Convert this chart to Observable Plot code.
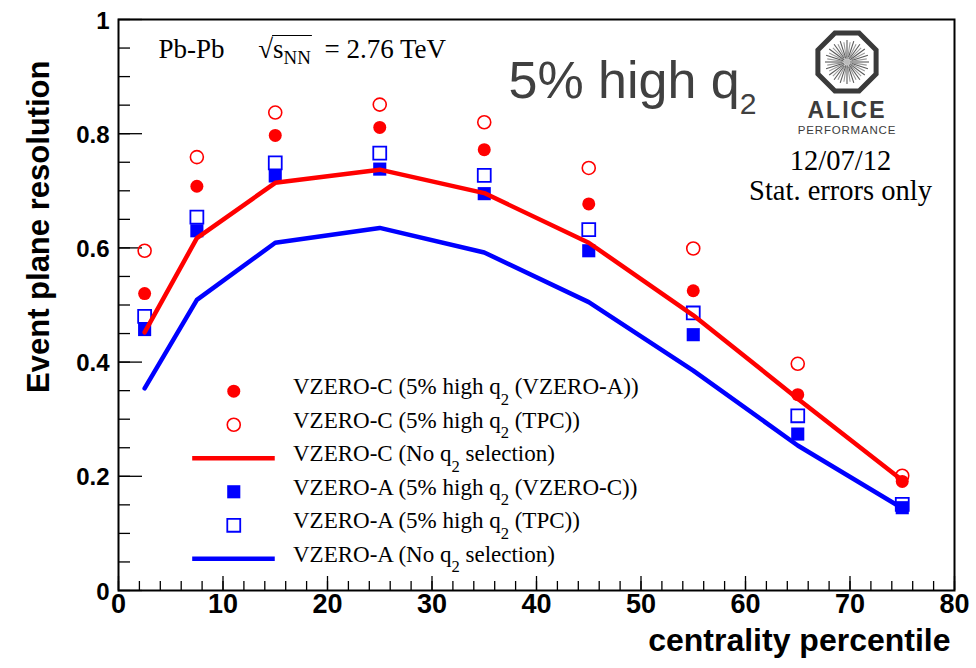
<!DOCTYPE html>
<html><head><meta charset="utf-8">
<script src="https://cdn.jsdelivr.net/npm/d3@7"></script>
<script src="https://cdn.jsdelivr.net/npm/@observablehq/plot@0.6"></script>
<style>
html,body{margin:0;padding:0;background:#fff;}
#chart{width:976px;height:668px;}
</style></head><body><div id="chart"></div>
<script>
// ---------------- data ----------------
const centrality = [2.5, 7.5, 15, 25, 35, 45, 55, 65, 75];
const vzeroC_q2VZEROA = [0.520, 0.708, 0.797, 0.811, 0.772, 0.677, 0.525, 0.343, 0.191];
const vzeroC_q2TPC    = [0.595, 0.759, 0.837, 0.851, 0.820, 0.740, 0.599, 0.397, 0.201];
const vzeroC_noSel    = [0.452, 0.617, 0.714, 0.737, 0.696, 0.609, 0.482, 0.336, 0.193];
const vzeroA_q2VZEROC = [0.457, 0.630, 0.726, 0.738, 0.695, 0.595, 0.448, 0.274, 0.145];
const vzeroA_q2TPC    = [0.480, 0.654, 0.749, 0.766, 0.727, 0.632, 0.486, 0.306, 0.151];
const vzeroA_noSel    = [0.354, 0.509, 0.609, 0.635, 0.592, 0.505, 0.385, 0.254, 0.144];
const seriesLabels = [
  "VZERO-C (5% high q_{2} (VZERO-A))",
  "VZERO-C (5% high q_{2} (TPC))",
  "VZERO-C (No q_{2} selection)",
  "VZERO-A (5% high q_{2} (VZERO-C))",
  "VZERO-A (5% high q_{2} (TPC))",
  "VZERO-A (No q_{2} selection)"
];
const xMajorTicks = [0, 10, 20, 30, 40, 50, 60, 70, 80];
const xTickLabels = ["0", "10", "20", "30", "40", "50", "60", "70", "80"];
const xMinorTicks = d3.range(0, 81, 2);
const yMajorTicks = [0, 0.2, 0.4, 0.6, 0.8, 1];
const yTickLabels = ["0", "0.2", "0.4", "0.6", "0.8", "1"];
const yMinorTicks = d3.range(0, 21).map(i => i / 20);
const xTitle = "centrality percentile";
const yTitle = "Event plane resolution";
const headerText = "Pb-Pb     \u221As_{NN}  = 2.76 TeV";
const bigTitle = "5% high q_{2}";
const dateText = "12/07/12";
const statText = "Stat. errors only";

// ---------------- layout ----------------
const W = 976, H = 668, mL = 118, mR = 22, mT = 19, mB = 78;
const innerW = W - mL - mR, innerH = H - mT - mB;
const RED = "#ff0000", BLUE = "#0000ff";
const SERIF = "Liberation Serif, Times New Roman, serif";
const SANS = "Liberation Sans, Arial, Helvetica, sans-serif";

const legTop = 0.349, legStep = 0.0587;
const legRows = seriesLabels.map((label, i) => ({label, i, y: legTop - i * legStep}));
const legSymX = 11.03, legLineX1 = 7.1, legLineX2 = 15.0, legTextX = 16.7;

const ptY = arr => (d, i) => arr[i];

const plot = Plot.plot({
  width: W, height: H,
  marginLeft: mL, marginRight: mR, marginTop: mT, marginBottom: mB,
  style: {fontFamily: SANS, background: "white", overflow: "visible"},
  x: {domain: [0, 80], axis: null},
  y: {domain: [0, 1], axis: null},
  marks: [
    // ticks (inside frame)
    Plot.tickY(yMinorTicks, {y: d => d, insetRight: innerW - 12, stroke: "black", strokeWidth: 1.3}),
    Plot.tickY(yMajorTicks, {y: d => d, insetRight: innerW - 24, stroke: "black", strokeWidth: 1.3}),
    Plot.tickX(xMinorTicks, {x: d => d, insetTop: innerH - 9, stroke: "black", strokeWidth: 1.3}),
    Plot.tickX(xMajorTicks, {x: d => d, insetTop: innerH - 14, stroke: "black", strokeWidth: 1.3}),
    // tick labels
    Plot.text(yMajorTicks, {y: d => d, text: (d, i) => yTickLabels[i], frameAnchor: "left", textAnchor: "end", lineAnchor: "bottom", dx: -9, dy: 9, fontSize: 24, fontWeight: "bold", fill: "black"}),
    Plot.text(xMajorTicks, {x: d => d, text: (d, i) => xTickLabels[i], frameAnchor: "bottom", textAnchor: "middle", lineAnchor: "bottom", dy: 22, fontSize: 27, fontWeight: "bold", fill: "black"}),
    // axis titles
    Plot.text([xTitle], {text: d => d, frameAnchor: "bottom-right", textAnchor: "end", lineAnchor: "bottom", dx: -4, dy: 60, fontSize: 32, fontWeight: "bold", fill: "black"}),
    Plot.text([yTitle], {text: d => d, frameAnchor: "top-left", textAnchor: "end", lineAnchor: "bottom", rotate: -90, dx: -70, dy: 41, fontSize: 31, fontWeight: "bold", fill: "black"}),
    // data: open markers first
    Plot.dot(centrality, {x: d => d, y: ptY(vzeroC_q2TPC), r: 6.5, fill: "none", stroke: RED, strokeWidth: 1.6}),
    Plot.dot(centrality, {x: d => d, y: ptY(vzeroA_q2TPC), symbol: "square", r: 7.3, fill: "white", stroke: BLUE, strokeWidth: 1.8}),
    Plot.dot(centrality, {x: d => d, y: ptY(vzeroC_q2VZEROA), r: 6.5, fill: RED, stroke: "none"}),
    Plot.dot(centrality, {x: d => d, y: ptY(vzeroA_q2VZEROC), symbol: "square", r: 7.4, fill: BLUE, stroke: "none"}),
    Plot.line(centrality, {x: d => d, y: ptY(vzeroC_noSel), stroke: RED, strokeWidth: 4.5}),
    Plot.line(centrality, {x: d => d, y: ptY(vzeroA_noSel), stroke: BLUE, strokeWidth: 4.5}),
    // legend
    Plot.dot([legRows[0]], {x: () => legSymX, y: "y", r: 6.5, fill: RED, stroke: "none"}),
    Plot.dot([legRows[1]], {x: () => legSymX, y: "y", r: 6.5, fill: "none", stroke: RED, strokeWidth: 1.6}),
    Plot.ruleY([legRows[2]], {y: "y", x1: () => legLineX1, x2: () => legLineX2, stroke: RED, strokeWidth: 4.5}),
    Plot.dot([legRows[3]], {x: () => legSymX, y: "y", symbol: "square", r: 7.4, fill: BLUE, stroke: "none"}),
    Plot.dot([legRows[4]], {x: () => legSymX, y: "y", symbol: "square", r: 7.3, fill: "white", stroke: BLUE, strokeWidth: 1.8}),
    Plot.ruleY([legRows[5]], {y: "y", x1: () => legLineX1, x2: () => legLineX2, stroke: BLUE, strokeWidth: 4.5}),
    Plot.text(legRows, {x: () => legTextX, y: "y", text: "label", textAnchor: "start", lineAnchor: "bottom", dy: 3, fontSize: 23, fontFamily: SERIF, fill: "black"}),
    // annotations
    Plot.text([headerText], {text: d => d, frameAnchor: "top-left", textAnchor: "start", lineAnchor: "bottom", dx: 40, dy: 38, fontSize: 27, fontFamily: SERIF, fill: "black"}),
    Plot.text([bigTitle], {text: d => d, frameAnchor: "top-left", textAnchor: "start", lineAnchor: "bottom", dx: 390, dy: 78, fontSize: 52, fontFamily: SANS, fill: "#404040"}),
    Plot.text([dateText], {text: d => d, frameAnchor: "top-left", textAnchor: "middle", lineAnchor: "bottom", dx: 722, dy: 150, fontSize: 28.5, fontFamily: SERIF, fill: "black"}),
    Plot.text([statText], {text: d => d, frameAnchor: "top-left", textAnchor: "middle", lineAnchor: "bottom", dx: 722, dy: 180, fontSize: 28.5, fontFamily: SERIF, fill: "black"}),
    Plot.frame({stroke: "black", strokeWidth: 2})
  ]
});

document.getElementById("chart").appendChild(plot);
const svg = d3.select(plot);

// ---- subscripts: "_{..}" -> lowered, smaller tspan ----
function richify(el, scale, shiftEm) {
  const s = el.textContent;
  if (!s.includes("_{")) return;
  const fs = parseFloat(getComputedStyle(el).fontSize) || 20;
  const sel = d3.select(el);
  sel.text(null).style("white-space", "pre");
  const parts = s.split(/(_\{[^}]*\})/);
  let pendingUp = 0;
  for (const p of parts) {
    if (!p) continue;
    const m = p.match(/^_\{([^}]*)\}$/);
    const ts = sel.append("tspan");
    if (m) {
      const sh = shiftEm * fs;
      ts.text(m[1]).attr("font-size", (scale * fs) + "px").attr("dy", sh);
      pendingUp = sh;
    } else {
      ts.text(p);
      if (pendingUp) { ts.attr("dy", -pendingUp); pendingUp = 0; }
    }
  }
}
svg.selectAll("text").each(function() {
  const t = this.textContent;
  if (t.startsWith("5%")) richify(this, 0.58, 0.31);
  else if (t.startsWith("Pb-Pb")) richify(this, 0.7, 0.25);
  else richify(this, 0.72, 0.45);
});

// ---- overline for sqrt(s_NN) ----
svg.selectAll("text").each(function() {
  const t = this.textContent;
  if (!t.startsWith("Pb-Pb")) return;
  const iR = t.indexOf("\u221A");
  const eR = this.getExtentOfChar(iR);
  const eN = this.getExtentOfChar(iR + 3);
  const yTop = eR.y + 2;
  d3.select(this.parentNode).append("line")
    .attr("transform", this.getAttribute("transform"))
    .attr("x1", eR.x + eR.width - 1).attr("x2", eN.x + eN.width + 1)
    .attr("y1", yTop).attr("y2", yTop)
    .attr("stroke", "black").attr("stroke-width", 1.2);
});

// ---- ALICE Performance logo (decoration) ----
const cx = 847, cy = 62, R = 31.5;
const logo = svg.append("g").attr("class", "alice-logo");
const oct = d3.range(8).map(k => {
  const a = (22.5 + 45 * k) * Math.PI / 180;
  return [cx + R * Math.cos(a), cy + R * Math.sin(a)];
});
logo.append("path").attr("d", "M" + oct.map(p => p.join(",")).join("L") + "Z")
  .attr("fill", "white").attr("stroke", "#3a3a3a").attr("stroke-width", 5);
d3.range(40).forEach(k => {
  const a = k * 9 * Math.PI / 180;
  const r0 = 3 + (k % 3), r1 = 22 - (k % 2) * 2;
  logo.append("line")
    .attr("x1", cx + r0 * Math.cos(a)).attr("y1", cy + r0 * Math.sin(a))
    .attr("x2", cx + r1 * Math.cos(a)).attr("y2", cy + r1 * Math.sin(a))
    .attr("stroke", k % 2 ? "#9a9a9a" : "#5a5a5a").attr("stroke-width", 1.1);
});
logo.append("circle").attr("cx", cx).attr("cy", cy).attr("r", 3).attr("fill", "#bbb");
logo.append("text").attr("x", cx).attr("y", 118).attr("text-anchor", "middle")
  .attr("font-family", SANS).attr("font-weight", "bold").attr("font-size", 23).attr("letter-spacing", 2)
  .attr("fill", "#3c3c3c").text("ALICE");
logo.append("text").attr("x", cx).attr("y", 134).attr("text-anchor", "middle")
  .attr("font-family", SANS).attr("font-size", 11.5).attr("letter-spacing", 0.8)
  .attr("fill", "#3c3c3c").text("PERFORMANCE");
</script>
</body></html>
